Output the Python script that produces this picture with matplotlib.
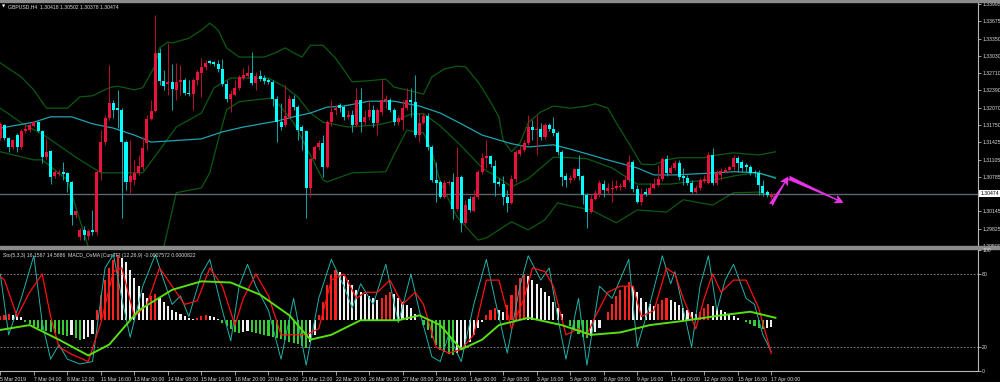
import matplotlib
matplotlib.use('Agg')
import matplotlib.pyplot as plt
from matplotlib.patches import Rectangle
import numpy as np

# GBPUSD H4 candles (bar 0 = first visible bar)
opens = [1.3151, 1.3175, 1.3151, 1.3134, 1.3156, 1.3134, 1.3164, 1.3166, 1.3173, 1.3180,
         1.3164, 1.3115, 1.3126, 1.3080, 1.3084, 1.3088, 1.3086, 1.3069, 1.3008, 1.2967,
         1.2980, 1.2969, 1.2980, 1.2976, 1.3088, 1.3143, 1.3188, 1.3216, 1.3206, 1.3203,
         1.3143, 1.3069, 1.3073, 1.3086, 1.3097, 1.3141, 1.3186, 1.3201, 1.3309, 1.3257,
         1.3251, 1.3255, 1.3240, 1.3255, 1.3258, 1.3234, 1.3232, 1.3258, 1.3271, 1.3283,
         1.3294, 1.3292, 1.3288, 1.3279, 1.3251, 1.3223, 1.3231, 1.3244, 1.3262, 1.3266,
         1.3271, 1.3253, 1.3266, 1.3262, 1.3258, 1.3255, 1.3223, 1.3180, 1.3175, 1.3190,
         1.3223, 1.3208, 1.3171, 1.3164, 1.3058, 1.3112, 1.3134, 1.3141, 1.3097, 1.3180,
         1.3203, 1.3212, 1.3208, 1.3190, 1.3193, 1.3175, 1.3221, 1.3180, 1.3190, 1.3203,
         1.3179, 1.3199, 1.3219, 1.3221, 1.3203, 1.3180, 1.3184, 1.3206, 1.3221, 1.3218,
         1.3156, 1.3179, 1.3192, 1.3134, 1.3073, 1.3069, 1.3041, 1.3067, 1.3069, 1.3019,
         1.3078, 1.2993, 1.3037, 1.3015, 1.3041, 1.3088, 1.3114, 1.3117, 1.3099, 1.3069,
         1.3065, 1.3041, 1.3030, 1.3075, 1.3121, 1.3128, 1.3141, 1.3171, 1.3166, 1.3167,
         1.3153, 1.3175, 1.3167, 1.3160, 1.3125, 1.3080, 1.3073, 1.3076, 1.3093, 1.3080,
         1.3045, 1.3013, 1.3037, 1.3047, 1.3065, 1.3052, 1.3056, 1.3058, 1.3060, 1.3060,
         1.3073, 1.3106, 1.3056, 1.3032, 1.3050, 1.3047, 1.3058, 1.3063, 1.3075, 1.3112,
         1.3086, 1.3095, 1.3104, 1.3080, 1.3076, 1.3067, 1.3050, 1.3058, 1.3071, 1.3067,
         1.3119, 1.3067, 1.3082, 1.3088, 1.3091, 1.3097, 1.3114, 1.3106, 1.3101, 1.3097,
         1.3088, 1.3086, 1.3062, 1.3050, 1.30418]
highs = [1.3180, 1.3177, 1.3153, 1.3149, 1.3160, 1.3167, 1.3177, 1.3179, 1.3182, 1.3182,
         1.3166, 1.3151, 1.3128, 1.3091, 1.3091, 1.3106, 1.3088, 1.3071, 1.3017, 1.2984,
         1.2987, 1.2982, 1.3017, 1.3091, 1.3166, 1.3193, 1.3286, 1.3221, 1.3240, 1.3206,
         1.3147, 1.3147, 1.3110, 1.3119, 1.3153, 1.3193, 1.3221, 1.3379, 1.3318, 1.3277,
         1.3327, 1.3288, 1.3290, 1.3286, 1.3262, 1.3258, 1.3262, 1.3277, 1.3299, 1.3296,
         1.3296, 1.3294, 1.3296, 1.3297, 1.3258, 1.3240, 1.3258, 1.3268, 1.3281, 1.3286,
         1.3310, 1.3273, 1.3277, 1.3268, 1.3262, 1.3258, 1.3229, 1.3216, 1.3249, 1.3231,
         1.3231, 1.3212, 1.3175, 1.3166, 1.3114, 1.3138, 1.3147, 1.3156, 1.3184, 1.3221,
         1.3212, 1.3216, 1.3212, 1.3203, 1.3203, 1.3244, 1.3244, 1.3203, 1.3221, 1.3212,
         1.3206, 1.3258, 1.3231, 1.3225, 1.3206, 1.3193, 1.3221, 1.3244, 1.3244, 1.3268,
         1.3197, 1.3197, 1.3197, 1.3138, 1.3106, 1.3073, 1.3073, 1.3073, 1.3086, 1.3134,
         1.3082, 1.3036, 1.3043, 1.3054, 1.3091, 1.3123, 1.3147, 1.3119, 1.3110, 1.3076,
         1.3080, 1.3054, 1.3082, 1.3128, 1.3138, 1.3147, 1.3193, 1.3184, 1.3193, 1.3179,
         1.3179, 1.3179, 1.3190, 1.3164, 1.3128, 1.3086, 1.3082, 1.3095, 1.3119, 1.3082,
         1.3049, 1.3045, 1.3054, 1.3073, 1.3073, 1.3067, 1.3073, 1.3073, 1.3067, 1.3082,
         1.3119, 1.3110, 1.3063, 1.3058, 1.3058, 1.3067, 1.3076, 1.3101, 1.3115, 1.3119,
         1.3101, 1.3110, 1.3110, 1.3095, 1.3082, 1.3073, 1.3063, 1.3076, 1.3082, 1.3125,
         1.3132, 1.3091, 1.3095, 1.3097, 1.3101, 1.3119, 1.3117, 1.3110, 1.3104, 1.3101,
         1.3091, 1.3091, 1.3073, 1.3054, 1.30502]
lows = [1.3147, 1.3147, 1.3125, 1.3130, 1.3125, 1.3130, 1.3160, 1.3162, 1.3171, 1.3162,
        1.3104, 1.3110, 1.3065, 1.3076, 1.3080, 1.3073, 1.3050, 1.2989, 1.3002, 1.2961,
        1.2961, 1.2961, 1.2971, 1.2971, 1.3073, 1.3138, 1.3184, 1.3188, 1.3169, 1.3002,
        1.3054, 1.3049, 1.3063, 1.3082, 1.3091, 1.3128, 1.3184, 1.3199, 1.3249, 1.3240,
        1.3231, 1.3203, 1.3221, 1.3231, 1.3231, 1.3229, 1.3203, 1.3249, 1.3227, 1.3277,
        1.3288, 1.3284, 1.3273, 1.3247, 1.3218, 1.3199, 1.3229, 1.3240, 1.3258, 1.3262,
        1.3249, 1.3240, 1.3257, 1.3251, 1.3251, 1.3210, 1.3143, 1.3166, 1.3171, 1.3188,
        1.3203, 1.3147, 1.3128, 1.3002, 1.3041, 1.3110, 1.3128, 1.3078, 1.3095, 1.3173,
        1.3193, 1.3199, 1.3184, 1.3186, 1.3162, 1.3171, 1.3162, 1.3175, 1.3184, 1.3171,
        1.3156, 1.3193, 1.3206, 1.3199, 1.3175, 1.3175, 1.3166, 1.3203, 1.3190, 1.3153,
        1.3143, 1.3177, 1.3128, 1.3069, 1.3032, 1.3039, 1.3039, 1.3063, 1.3000, 1.3015,
        1.2976, 1.2989, 1.3013, 1.3013, 1.3037, 1.3084, 1.3095, 1.3097, 1.3043, 1.3062,
        1.3026, 1.3013, 1.3028, 1.3069, 1.3117, 1.3125, 1.3138, 1.3147, 1.3119, 1.3147,
        1.3149, 1.3164, 1.3154, 1.3119, 1.3062, 1.3060, 1.3067, 1.3073, 1.3073, 1.3028,
        1.2984, 1.3012, 1.3036, 1.3041, 1.3041, 1.3049, 1.3032, 1.3054, 1.3054, 1.3058,
        1.3069, 1.3050, 1.3030, 1.3026, 1.3043, 1.3045, 1.3056, 1.3062, 1.3071, 1.3080,
        1.3082, 1.3091, 1.3073, 1.3063, 1.3063, 1.3049, 1.3049, 1.3054, 1.3067, 1.3065,
        1.3063, 1.3063, 1.3073, 1.3086, 1.3088, 1.3091, 1.3088, 1.3088, 1.3088, 1.3082,
        1.3078, 1.3045, 1.3043, 1.3041, 1.30378]
closes = [1.3177, 1.3151, 1.3134, 1.3147, 1.3134, 1.3164, 1.3167, 1.3175, 1.3180, 1.3164,
          1.3115, 1.3125, 1.3078, 1.3088, 1.3086, 1.3084, 1.3069, 1.3008, 1.3015, 1.2980,
          1.2971, 1.2978, 1.2976, 1.3088, 1.3143, 1.3188, 1.3216, 1.3203, 1.3203, 1.3143,
          1.3069, 1.3080, 1.3086, 1.3099, 1.3132, 1.3186, 1.3201, 1.3309, 1.3257, 1.3247,
          1.3255, 1.3242, 1.3255, 1.3258, 1.3234, 1.3232, 1.3258, 1.3273, 1.3283, 1.3290,
          1.3290, 1.3288, 1.3279, 1.3251, 1.3223, 1.3232, 1.3244, 1.3264, 1.3268, 1.3271,
          1.3253, 1.3266, 1.3260, 1.3257, 1.3255, 1.3223, 1.3180, 1.3171, 1.3192, 1.3223,
          1.3208, 1.3166, 1.3164, 1.3058, 1.3112, 1.3134, 1.3141, 1.3097, 1.3180, 1.3199,
          1.3206, 1.3206, 1.3190, 1.3193, 1.3175, 1.3221, 1.3180, 1.3190, 1.3203, 1.3179,
          1.3203, 1.3221, 1.3223, 1.3203, 1.3180, 1.3188, 1.3206, 1.3221, 1.3218, 1.3156,
          1.3179, 1.3192, 1.3134, 1.3073, 1.3067, 1.3041, 1.3067, 1.3069, 1.3019, 1.3078,
          1.2993, 1.3026, 1.3017, 1.3041, 1.3088, 1.3114, 1.3117, 1.3102, 1.3067, 1.3065,
          1.3041, 1.3030, 1.3075, 1.3125, 1.3128, 1.3141, 1.3171, 1.3166, 1.3167, 1.3153,
          1.3175, 1.3167, 1.3160, 1.3125, 1.3078, 1.3073, 1.3076, 1.3093, 1.3080, 1.3045,
          1.3013, 1.3037, 1.3049, 1.3067, 1.3054, 1.3058, 1.3058, 1.3062, 1.3062, 1.3073,
          1.3106, 1.3056, 1.3032, 1.3047, 1.3047, 1.3058, 1.3065, 1.3075, 1.3112, 1.3086,
          1.3095, 1.3104, 1.3078, 1.3076, 1.3067, 1.3050, 1.3058, 1.3073, 1.3075, 1.3119,
          1.3067, 1.3086, 1.3089, 1.3091, 1.3097, 1.3114, 1.3104, 1.3095, 1.3097, 1.3086,
          1.3086, 1.3063, 1.3049, 1.3045, 1.30474]

# slow moving average (cyan), vertices (bar index, price)
ma_idx = [0, 8, 12, 17, 22, 27, 32, 36, 40, 48, 53, 58, 66, 70, 74, 78, 82, 88, 94,
          100, 105, 110, 115, 122, 126, 132, 136, 141, 144, 152, 156, 161, 166, 171, 175, 181, 185]
ma_val = [1.3169, 1.3180, 1.3190, 1.3190, 1.3177, 1.3169, 1.3156, 1.3143, 1.3145, 1.3149,
          1.3162, 1.3171, 1.3182, 1.3190, 1.3197, 1.3208, 1.3210, 1.3219, 1.3219,
          1.3210, 1.3197, 1.3177, 1.3156, 1.3140, 1.3134, 1.3138, 1.3130, 1.3119, 1.3112,
          1.3095, 1.3082, 1.3082, 1.3084, 1.3086, 1.3088, 1.3086, 1.3076]

# Bollinger bands (dark green), vertices (bar index, price)
bb_up_idx = [0, 5, 8, 11, 16, 19, 22, 26, 28, 32, 34, 37, 38, 40, 41, 45, 48, 50, 52, 54,
             57, 63, 66, 68, 70, 72, 74, 77, 80, 82, 84, 88, 92, 94, 97, 101, 103, 106, 109,
             111, 114, 116, 119, 120, 122, 124, 126, 129, 132, 136, 140, 142, 145, 147, 150,
             152, 153, 156, 159, 162, 168, 171, 175, 181, 185]
bb_up_val = [1.3290, 1.3264, 1.3240, 1.3206, 1.3206, 1.3227, 1.3229, 1.3244, 1.3247, 1.3240,
             1.3244, 1.3286, 1.3318, 1.3329, 1.3327, 1.3336, 1.3351, 1.3364, 1.3351, 1.3318,
             1.3301, 1.3301, 1.3310, 1.3318, 1.3309, 1.3301, 1.3323, 1.3323, 1.3299, 1.3277,
             1.3255, 1.3257, 1.3260, 1.3245, 1.3240, 1.3232, 1.3264, 1.3279, 1.3284,
             1.3283, 1.3255, 1.3231, 1.3190, 1.3147, 1.3125, 1.3141, 1.3179, 1.3199, 1.3210,
             1.3206, 1.3210, 1.3214, 1.3206, 1.3179, 1.3141,
             1.3115, 1.3102, 1.3101, 1.3110, 1.3114, 1.3114, 1.3119, 1.3123, 1.3119, 1.3125]
bb_mid_idx = [0, 5, 11, 18, 24, 34, 38, 42, 48, 51, 55, 64, 68, 71, 74, 77, 83, 90, 94,
              98, 101, 105, 110, 115, 120, 122, 126, 129, 132, 136, 140, 146, 152, 160, 165,
              170, 175, 180, 185]
bb_mid_val = [1.3206, 1.3179, 1.3153, 1.3115, 1.3086, 1.3086, 1.3128, 1.3171, 1.3197, 1.3244,
              1.3262, 1.3262, 1.3245, 1.3227, 1.3197, 1.3180, 1.3171, 1.3175, 1.3182,
              1.3195, 1.3196, 1.3173, 1.3136, 1.3095, 1.3071, 1.3060, 1.3075, 1.3095, 1.3115,
              1.3114, 1.3112, 1.3095, 1.3065, 1.3065, 1.3070, 1.3072, 1.3080, 1.3086, 1.3078]
bb_lo_idx = [0, 8, 10, 16, 21, 26, 33, 38, 39, 42, 48, 50, 52, 54, 57, 65, 67, 70, 73, 77,
             78, 84, 92, 94, 97, 101, 103, 105, 109, 114, 116, 120, 122, 126, 130, 133, 137,
             141, 147, 152, 159, 163, 170, 175, 181, 185]
bb_lo_val = [1.3125, 1.3110, 1.3110, 1.3073, 1.2948, 1.2896, 1.2887, 1.2943, 1.2948, 1.3049,
             1.3058, 1.3086, 1.3147, 1.3203, 1.3218, 1.3225, 1.3208, 1.3179, 1.3134, 1.3073,
             1.3069, 1.3086, 1.3088, 1.3120, 1.3165, 1.3160, 1.3125, 1.3069, 1.3004, 1.2961,
             1.2965, 1.2985, 1.2995, 1.2980, 1.2999, 1.3030, 1.3023,
             1.3017, 1.2993, 1.3017, 1.3013, 1.3036, 1.3026, 1.3049, 1.3050, 1.3041]

# oscillator window -------------------------------------------------------
# Stochastic(5,3,3) main (teal) and signal (red), vertices (bar index, 0-100)
sto_main_idx = [0, 2, 5, 8, 10, 12, 14, 16, 19, 22, 25, 27, 29, 31, 34, 37, 39, 41, 43, 45,
                48, 50, 53, 55, 57, 59, 61, 64, 67, 70, 73, 76, 79, 82, 84, 86, 89, 92, 95,
                98, 100, 103, 105, 107, 110, 113, 116, 118, 121, 124, 126, 129, 131, 133, 135,
                138, 140, 143, 146, 150, 152, 155, 158, 160, 161, 165, 167, 169, 171, 173, 175,
                178, 180, 182, 184]
sto_main_val = [80, 30, 60, 95, 40, 10, 22, 10, 6, 8, 85, 96, 60, 28, 70, 96, 75, 55, 62, 45,
                80, 92, 50, 25, 70, 88, 70, 50, 10, 60, 5, 60, 92, 70, 52, 72, 55, 88, 40,
                80, 50, 12, 8, 30, 8, 55, 92, 60, 15, 70, 95, 75, 85, 45, 10,
                60, 5, 70, 60, 92, 20, 55, 95, 72, 82, 20, 70, 95, 50, 75, 88,
                60, 55, 30, 16.2]
sto_sig_idx = [0, 1, 4, 7, 10, 12, 14, 17, 21, 24, 27, 29, 32, 35, 38, 41, 44, 47, 50, 53,
               56, 58, 61, 64, 67, 70, 73, 76, 79, 82, 85, 87, 90, 93, 96, 99, 101, 104, 107,
               110, 113, 116, 119, 122, 125, 127, 130, 132, 135, 138, 140, 142, 145, 148, 151,
               153, 156, 159, 161, 163, 166, 168, 170, 172, 175, 178, 181, 184]
sto_sig_val = [78, 75, 45, 65, 80, 45, 20, 14, 8, 40, 82, 85, 45, 55, 85, 70, 55, 58, 85, 70,
               38, 60, 80, 62, 30, 30, 30, 35, 75, 80, 60, 65, 65, 75, 55, 65, 55, 20, 15,
               18, 30, 75, 75, 35, 60, 85, 82, 70, 30, 35, 30, 45, 65, 70, 70,
               45, 50, 85, 80, 60, 35, 60, 80, 65, 75, 75, 52, 14.6]
# slow line of the OsMA window (green), vertices (bar index, 0-100)
sig_idx = [0, 7, 14, 21, 26, 33, 41, 48, 55, 62, 69, 74, 79, 86, 95, 100, 105, 110, 115,
           119, 126, 134, 141, 148, 155, 162, 172, 179, 185]
sig_val = [34, 38, 26, 13, 22, 50, 67, 74, 73, 63, 46, 26, 30, 42, 42, 46, 38, 18, 26,
           38, 44, 38, 30, 32, 38, 41, 46, 49, 44]
# OsMA histogram, one bar per candle (pixels above/below its zero line)
osma = [4, 5, 6, 5, 4, 3,
        -2, -4, -6, -8, -10, -11, -12, -13,
        -14, -15, -16, -15, -18, -20, -19, -17, -14,
        10, 25, 40, 52, 60, 65, 62, 58, 50,
        42, 34, 27, 22, 24, 26,
        22, 18, 14, 10, 8, 6, 4, 2,
        1, 2, 4, 5, 4, 3, 1,
        -3, -6, -9, -12, -13, -12, -11, -12,
        -13, -14, -15, -16, -17, -18, -19, -20, -22, -23, -24, -26,
        -28, -22, -15,
        5, 18, 35, 45, 50, 48, 44, 40, 35,
        30, 28, 26, 24, 22, 20, 22, 25,
        28, 26, 22, 18, 15, 12, 6, 0,
        -5, -10, -18, -25, -30, -32, -34, -35, -33, -30, -27, -22,
        -15, -8, -2, 5, 10,
        12, 10, 8, 15, 25, 35, 42, 45, 44, 40, 36, 32, 28, 24,
        18, 12, 6, 0,
        -6, -10, -14, -17, -18, -16, -12, -8,
        0, 8, 16, 24, 30, 34, 38,
        34, 28, 22, 18, 16, 14,
        16, 20, 22, 20, 18, 15, 12, 10, 8, 6,
        8, 12, 16, 14, 12, 10,
        8, 6, 4, 2, 0, -2,
        -4, -6, -8, -9, -8, -7]

price_ticks = [1.33995, 1.33675, 1.33350, 1.33030, 1.32710, 1.32390, 1.32070, 1.31750,
               1.31425, 1.31105, 1.30785, 1.30145, 1.29825, 1.29500]
last_price = 1.30474
time_labels = ['5 Mar 2019', '7 Mar 04:00', '8 Mar 12:00', '11 Mar 16:00', '13 Mar 00:00',
               '14 Mar 08:00', '15 Mar 16:00', '18 Mar 20:00', '20 Mar 04:00', '21 Mar 12:00',
               '22 Mar 20:00', '26 Mar 00:00', '27 Mar 08:00', '28 Mar 16:00', '1 Apr 00:00',
               '2 Apr 08:00', '3 Apr 16:00', '5 Apr 00:00', '8 Apr 08:00', '9 Apr 16:00',
               '11 Apr 00:00', '12 Apr 08:00', '15 Apr 16:00', '17 Apr 00:00']

# forecast arrows drawn on the chart (bar index, price)
arrow_up = ((183.9, 1.30263), (188.1, 1.30788))
arrow_down = ((188.1, 1.30770), (201.2, 1.30305))

W, H = 1000, 382
BG = 'black'
AXC = '#b8b8b8'
TXT = '#dcdcdc'
UP_BODY, UP_WICK = '#e8123c', '#b0102e'
DN_BODY, DN_WICK = '#00ffff', '#16a0a0'
BAND = '#0b5a10'
MA_C = '#1fa3b0'
FS = 3.7

plt.rcParams['font.family'] = ['Liberation Sans', 'DejaVu Sans']

fig = plt.figure(figsize=(W / 100, H / 100), dpi=100, facecolor=BG)


def px_axes(x0, y0, x1, y1):
    return fig.add_axes([x0 / W, 1 - y1 / H, (x1 - x0) / W, (y1 - y0) / H])


xlim = (-0.3 / 4.19, (978 - 0.3) / 4.19)

# ---------------- price window ----------------
ax = px_axes(0, 3, 978, 246)
ax.set_facecolor(BG)
ax.set_xlim(*xlim)
ax.set_ylim(1.29500, 1.34014)

o = np.array(opens)
c = np.array(closes)
idx = np.arange(len(c))
bull = c >= o
body_col = np.where(bull, UP_BODY, DN_BODY)
wick_col = np.where(bull, UP_WICK, DN_WICK)

ax.plot(bb_up_idx, bb_up_val, color=BAND, lw=0.9, zorder=1)
ax.plot(bb_mid_idx, bb_mid_val, color=BAND, lw=0.9, zorder=1)
ax.plot(bb_lo_idx, bb_lo_val, color=BAND, lw=0.9, zorder=1)
ax.plot(ma_idx, ma_val, color=MA_C, lw=0.9, zorder=1)

ax.axhline(last_price, color='#5c6670', lw=1.0, zorder=1)

ax.vlines(idx, lows, highs, colors=wick_col, lw=0.75, zorder=2)
ax.bar(idx, np.maximum(np.abs(c - o), 0.00008), bottom=np.minimum(o, c), width=0.72,
       color=body_col, linewidth=0, zorder=3)

for (x0, y0), (x1, y1) in (arrow_up, arrow_down):
    ax.annotate('', xy=(x1, y1), xytext=(x0, y0), zorder=5,
                arrowprops=dict(arrowstyle='fancy,head_length=0.7,head_width=0.7,tail_width=0.35',
                                color='#e633e6', lw=0, mutation_scale=9, shrinkA=0, shrinkB=0))

ax.yaxis.tick_right()
ax.set_yticks(price_ticks)
ax.set_yticklabels([f'{t:.5f}' for t in price_ticks])
ax.tick_params(axis='y', colors=AXC, labelcolor=TXT, labelsize=FS, length=2, pad=1.0, width=0.6)
ax.set_xticks([])
for s in ('left', 'top', 'bottom'):
    ax.spines[s].set_visible(False)
ax.spines['right'].set_color(AXC)
ax.spines['right'].set_linewidth(0.8)

ax.text(1.0025, last_price, f'{last_price:.5f}', transform=ax.get_yaxis_transform(),
        fontsize=FS, color='black', va='center', ha='left',
        bbox=dict(boxstyle='square,pad=0.25', fc='white', ec='none'))

fig.text(2 / W, 1 - 7 / H, '\u25bc', color='white', fontsize=3.0, va='center',
         family='DejaVu Sans')
fig.text(8 / W, 1 - 7 / H, 'GBPUSD,H4  1.30418 1.30502 1.30378 1.30474',
         color=TXT, fontsize=FS, va='center')

# ---------------- oscillator window ----------------
ai = px_axes(0, 249.7, 978, 371.3)
ai.set_facecolor(BG)
ai.set_xlim(*xlim)
ai.set_ylim(0, 100)

# OsMA histogram on its own scale, zero line near y = 320 px
ah = ai.twinx()
ah.set_ylim(-51.3, 70.3)
osma_arr = np.array(osma, dtype=float)
prev = np.concatenate([[osma_arr[0]], osma_arr[:-1]])
hist_col = np.where(osma_arr >= 0,
                    np.where(osma_arr >= prev, '#ff2020', '#f0f0f0'),
                    np.where(osma_arr <= prev, '#33cc33', '#f0f0f0'))
ah.bar(np.arange(len(osma_arr)), osma_arr, width=0.5, color=hist_col, linewidth=0, zorder=2)
ah.set_yticks([])
ah.set_xlim(*xlim)
for s in ah.spines.values():
    s.set_visible(False)

ai.set_zorder(ah.get_zorder() + 1)
ai.patch.set_visible(False)
ah.patch.set_facecolor(BG)

for lvl in (20, 80):
    ai.axhline(lvl, color='#9a9a9a', lw=0.6, ls=(0, (2, 2)), zorder=1)
ai.plot(sto_main_idx, sto_main_val, color='#20b2aa', lw=0.7, zorder=3)
ai.plot(sto_sig_idx, sto_sig_val, color='#ff1010', lw=0.9, zorder=3)
ai.plot(sig_idx, sig_val, color='#55e010', lw=1.4, zorder=4)

ai.yaxis.tick_right()
ai.set_yticks([0, 20, 80, 100])
ai.tick_params(axis='y', colors=AXC, labelcolor=TXT, labelsize=FS, length=2, pad=1.0, width=0.6)
ai.set_xticks(np.arange(len(time_labels)) * 8)
ai.set_xticklabels(time_labels, ha='left')
ai.tick_params(axis='x', colors=AXC, labelcolor=TXT, labelsize=FS, length=3, pad=1.0, width=0.6)
for s in ('left', 'top'):
    ai.spines[s].set_visible(False)
for s in ('right', 'bottom'):
    ai.spines[s].set_color(AXC)
    ai.spines[s].set_linewidth(0.8)

ai.text(0.003, 0.955, 'Sto(5,3,3) 16.1567 14.5886  MACD_OsMA [CurrTF] (12,26,9) -0.0007572 0.0000822',
        transform=ai.transAxes, color=TXT, fontsize=FS, va='center', ha='left')

# window frames
fig.add_artist(Rectangle((0, 1 - 2 / H), 1, 2 / H, transform=fig.transFigure, color='#8c8c8c'))
fig.add_artist(Rectangle((0, 1 - 249 / H), 1, 3 / H, transform=fig.transFigure, color='#8c8c8c'))

fig.savefig('out.png', dpi=100, facecolor=BG)
